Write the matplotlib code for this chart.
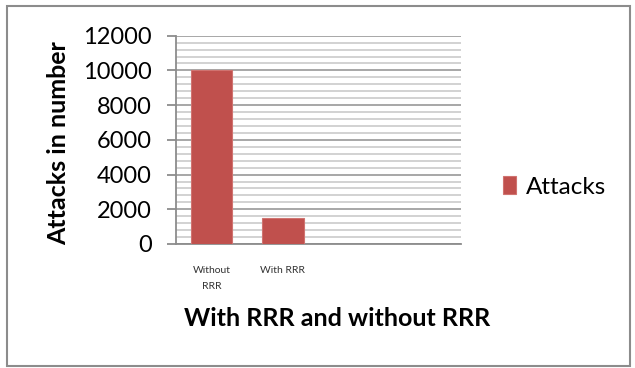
import matplotlib
matplotlib.use('Agg')
import matplotlib.pyplot as plt
import matplotlib.ticker as mticker
import matplotlib.patches as mpatches
import numpy as np

categories = ['Without\nRRR', 'With RRR']
attacks = [10000, 1500]
series_name = 'Attacks'
yticks = [0, 2000, 4000, 6000, 8000, 10000, 12000]

plt.rcParams['font.family'] = ['Lato', 'DejaVu Sans']

W, H = 635, 368
fig = plt.figure(figsize=(W / 100, H / 100), dpi=100)

# outer chart border
fig.patches.append(mpatches.Rectangle(
    (7 / W, 1 - 366 / H), 623 / W, 360 / H, transform=fig.transFigure,
    fill=False, edgecolor='#8c8c8c', lw=1.5))

ax = fig.add_axes([176 / W, 1 - 244 / H, 285 / W, 208.3 / H])

x = np.arange(len(categories))
ax.bar(x, attacks, width=0.58, color='#C0504D', edgecolor='#D07370',
       lw=0.8, zorder=3, label=series_name)

ax.set_xlim(-0.5, 3.5)
ax.set_ylim(0, 12000)
ax.set_yticks(yticks)
ax.yaxis.set_minor_locator(mticker.MultipleLocator(400))
ax.grid(which='major', axis='y', color='#a0a0a0', lw=1.3, zorder=0)
ax.grid(which='minor', axis='y', color='#cfcfcf', lw=1.3, zorder=0)
ax.set_axisbelow(True)

for s in ['top', 'right']:
    ax.spines[s].set_visible(False)
for s in ['left', 'bottom']:
    ax.spines[s].set_color('#8c8c8c')
    ax.spines[s].set_linewidth(1.3)

ax.tick_params(axis='y', which='major', length=6.5, width=1.3, color='#8c8c8c',
               labelsize=17, pad=11, labelcolor='black')
ax.tick_params(axis='y', which='minor', length=0)
ax.set_xticks(x, categories)
ax.tick_params(axis='x', length=0, labelsize=7.5, pad=16, labelcolor='#333333')
for t in ax.get_xticklabels():
    t.set_linespacing(1.9)

fig.text(59 / W, 1 - 143 / H, 'Attacks in number', rotation=90,
         fontsize=18, fontweight='bold', ha='center', va='center')
fig.text(337 / W, 1 - 318 / H, 'With RRR and without RRR',
         fontsize=18, fontweight='bold', ha='center', va='center')

ax.legend(loc='center left', bbox_to_anchor=(503 / W, 1 - 187 / H),
          bbox_transform=fig.transFigure, frameon=False, fontsize=17.5,
          handlelength=0.55, handleheight=0.75, handletextpad=0.4,
          borderaxespad=0, borderpad=0)

fig.savefig('out.png', dpi=100)
